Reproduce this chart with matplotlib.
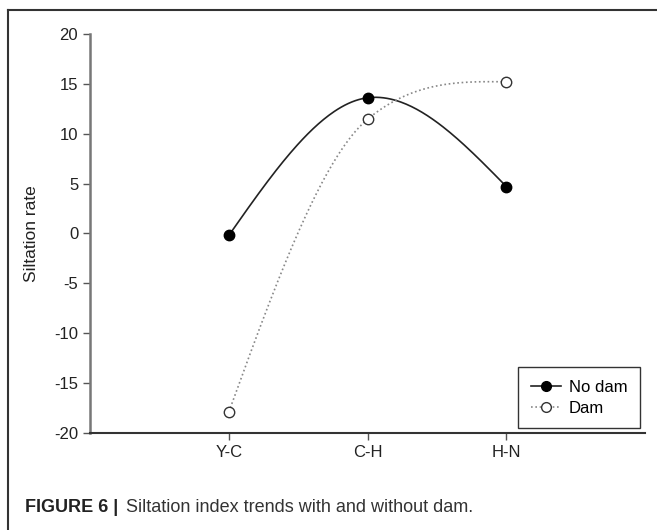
import numpy as np
import matplotlib
matplotlib.use('Agg')
import matplotlib.pyplot as plt
from matplotlib.lines import Line2D

plt.rcParams['font.family'] = ['Liberation Sans', 'DejaVu Sans']
plt.rcParams['axes.unicode_minus'] = False

# data
reaches = ['Y-C', 'C-H', 'H-N']
no_dam = [-0.2, 13.6, 4.7]
dam = [-17.9, 11.45, 15.2]
yticks = [-20, -15, -10, -5, 0, 5, 10, 15, 20]


def smooth_curve(x, y, tension=0.3, n=80):
    """cardinal (tensioned) Hermite spline through the points, natural-like ends"""
    x = np.asarray(x, float)
    y = np.asarray(y, float)
    h = x[1] - x[0]
    d = np.diff(y) / h
    m = np.zeros(len(y))
    m[1:-1] = (1 - tension) * (d[:-1] + d[1:]) / 2
    m[0] = (3 * d[0] - m[1]) / 2
    m[-1] = (3 * d[-1] - m[-2]) / 2
    xs, ys = [], []
    for i in range(len(x) - 1):
        t = np.linspace(0, 1, n)
        h00 = 2 * t ** 3 - 3 * t ** 2 + 1
        h10 = t ** 3 - 2 * t ** 2 + t
        h01 = -2 * t ** 3 + 3 * t ** 2
        h11 = t ** 3 - t ** 2
        xs.append(x[i] + t * h)
        ys.append(h00 * y[i] + h10 * h * m[i] + h01 * y[i + 1] + h11 * h * m[i + 1])
    return np.concatenate(xs), np.concatenate(ys)


fig = plt.figure(figsize=(6.57, 5.30), dpi=100)
ax = fig.add_axes([0.137, 0.183, 0.845, 0.753])

xpos = np.arange(1, len(reaches) + 1)

sx, sy = smooth_curve(xpos, no_dam)
ax.plot(sx, sy, color='#222222', lw=1.2)
ax.plot(xpos, no_dam, 'o', color='black', ms=7.5)

dx, dy = smooth_curve(xpos, dam)
ax.plot(dx, dy, color='#888888', lw=1.2, ls=(0, (1, 1.6)))
ax.plot(xpos, dam, 'o', mfc='white', mec='#333333', mew=1.0, ms=7.5)

ax.set_xlim(0, 4)
ax.set_ylim(-20, 20)
ax.set_xticks(xpos)
ax.set_xticklabels(reaches)
ax.set_yticks(yticks)
ax.set_ylabel('Siltation rate', fontsize=12.5, color='#222222', labelpad=11)

for s in ['top', 'right']:
    ax.spines[s].set_visible(False)
ax.spines['left'].set_color('#777777')
ax.spines['bottom'].set_color('#333333')
ax.spines['left'].set_linewidth(1.8)
ax.spines['bottom'].set_linewidth(1.5)
ax.tick_params(direction='out', length=5, width=1, colors='#555555', labelcolor='#222222',
               labelsize=12)

handles = [Line2D([], [], color='#222222', lw=1.2, marker='o', ms=7, mfc='black', mec='black'),
           Line2D([], [], color='#888888', lw=1.2, ls=(0, (1, 1.6)), marker='o', ms=7,
                  mfc='white', mec='#333333')]
leg = ax.legend(handles, ['No dam', 'Dam'], loc='lower right', bbox_to_anchor=(1.0, 0.0),
                fontsize=12, fancybox=False, framealpha=1, borderaxespad=0.3,
                handlelength=1.8, handletextpad=0.5, labelspacing=0.35, borderpad=0.75)
leg.get_frame().set_edgecolor('#333333')
leg.get_frame().set_linewidth(1.0)

# outer frame (top and left only)
fig.add_artist(Line2D([8 / 657, 1.0], [1 - 10 / 530, 1 - 10 / 530], transform=fig.transFigure,
                      color='#333333', lw=1.5))
fig.add_artist(Line2D([8 / 657, 8 / 657], [0.0, 1 - 10 / 530], transform=fig.transFigure,
                      color='#333333', lw=1.5))

# caption
fig.text(25 / 657, 1 - 507 / 530, 'FIGURE 6 |', fontsize=13, fontweight='bold',
         color='#222222', va='center')
fig.text(126 / 657, 1 - 507 / 530, 'Siltation index trends with and without dam.',
         fontsize=13, color='#333333', va='center')

fig.savefig('out.png', dpi=100)
